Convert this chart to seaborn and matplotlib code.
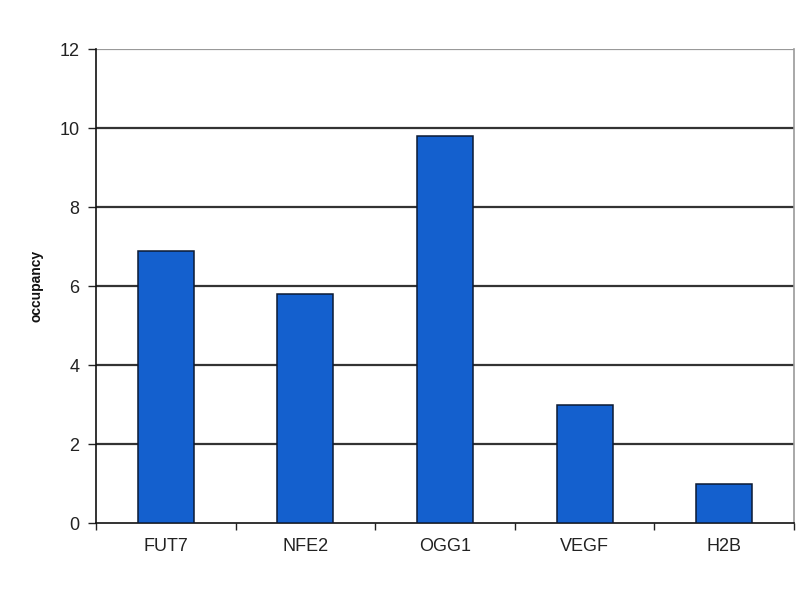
import matplotlib
matplotlib.use("Agg")
import matplotlib.pyplot as plt
import seaborn as sns
import pandas as pd
import numpy as np

genes = ["FUT7", "NFE2", "OGG1", "VEGF", "H2B"]
occupancy = [6.9, 5.8, 9.8, 3.0, 1.0]
yticks = [0, 2, 4, 6, 8, 10, 12]

sns.set_theme(style="white")
plt.rcParams['font.family'] = ['Liberation Sans', 'DejaVu Sans']

df = pd.DataFrame({"gene": genes, "occupancy": occupancy})

fig = plt.figure(figsize=(8, 6), dpi=100)
ax = fig.add_axes([0.12, 0.128, 0.8725, 0.79])

sns.barplot(data=df, x="gene", y="occupancy", color="#1460CE", saturation=1,
            width=0.4, edgecolor="#0c1a33", linewidth=1.1, ax=ax, zorder=3)

ax.set_ylim(0, 12)
ax.set_xlim(-0.5, len(genes) - 0.5)
ax.set_yticks(yticks)
ax.set_yticklabels([str(v) for v in yticks], fontsize=13, color="#222222")
for v in yticks[1:]:
    ax.axhline(v, color="#333333" if v < 12 else "#999999", linewidth=1.6, zorder=1)

# category labels at centers, tick marks at boundaries
ax.set_xticks(np.arange(len(genes)))
ax.set_xticklabels(genes, fontsize=13, color="#222222")
ax.tick_params(axis="x", length=0, pad=11)
ax.set_xticks(np.arange(len(genes) + 1) - 0.5, minor=True)
ax.tick_params(axis="x", which="minor", length=5, width=1, color="#222222", direction="out", bottom=True)
ax.tick_params(axis="y", length=6, width=1, color="#222222", direction="out", left=True, pad=6)

ax.set_xlabel("")
ax.set_ylabel("occupancy", fontsize=10, fontweight="bold", labelpad=11, color="#111111")

for side in ["left", "bottom"]:
    ax.spines[side].set_color("#111111")
    ax.spines[side].set_linewidth(1.2)
ax.spines["top"].set_visible(False)
ax.spines["right"].set_color("#999999")
ax.spines["right"].set_linewidth(1.2)

fig.savefig("out.png", dpi=100)
